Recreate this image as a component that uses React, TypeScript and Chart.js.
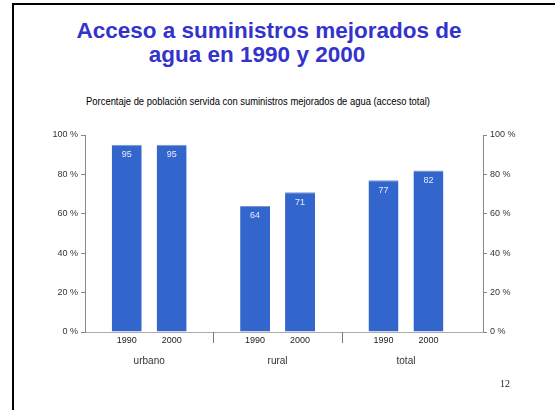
import React, { useEffect, useRef } from "react";
import { Chart, registerables } from "chart.js";

Chart.register(...registerables);

const categories = ["urbano", "rural", "total"];
const years = ["1990", "2000"];
const values1990 = [95, 64, 77];
const values2000 = [95, 71, 82];
const yTickStep = 20;

const NARROW = "'Liberation Sans Narrow', 'Arial Narrow', 'Liberation Sans', Arial, sans-serif";
const SANS = "'Liberation Sans', Arial, sans-serif";
const BAR = "#3366CC";

const decorPlugin = {
  id: "decor",
  afterDatasetsDraw(chart: any) {
    const { ctx, scales } = chart;
    const x = scales.x;
    const bottom = chart.chartArea.bottom;
    ctx.save();
    chart.data.datasets.forEach((ds: any, di: number) => {
      const meta = chart.getDatasetMeta(di);
      meta.data.forEach((bar: any, i: number) => {
        ctx.fillStyle = "#e8ecff";
        ctx.font = `9px ${NARROW}`;
        ctx.textAlign = "center";
        ctx.textBaseline = "middle";
        ctx.fillText(String(ds.data[i].y), bar.x, bar.y + 10);
        ctx.fillStyle = "#222";
        ctx.fillText(years[di], bar.x, bottom + 8.5);
      });
    });
    categories.forEach((c, i) => {
      const m0 = chart.getDatasetMeta(0).data[i];
      const m1 = chart.getDatasetMeta(1).data[i];
      const cx = (m0.x + m1.x) / 2;
      ctx.fillStyle = "#333";
      ctx.font = `10px ${SANS}`;
      ctx.textAlign = "center";
      ctx.textBaseline = "middle";
      ctx.fillText(c, cx, bottom + 29);
      if (i > 0) {
        const sx = Math.round((x.getPixelForValue(i - 1) + x.getPixelForValue(i)) / 2) + 0.5;
        ctx.strokeStyle = "#777";
        ctx.lineWidth = 1;
        ctx.beginPath();
        ctx.moveTo(sx, bottom);
        ctx.lineTo(sx, bottom + 11);
        ctx.stroke();
      }
    });
    ctx.restore();
  },
};

function yAxis(position: "left" | "right", width: number) {
  return {
    position,
    min: 0,
    max: 100,
    ticks: {
      stepSize: yTickStep,
      callback: (v: any) => `${v} %`,
      font: { family: NARROW, size: 9 },
      color: "#333",
      padding: 3,
    },
    grid: { display: true, drawOnChartArea: false, tickLength: 4, color: "#888" },
    border: { display: true, color: "#888" },
    afterFit: (s: any) => {
      s.width = width;
    },
  };
}

function BarChart() {
  const ref = useRef<HTMLCanvasElement>(null);
  useEffect(() => {
    if (!ref.current) return;
    const toPoints = (vals: number[]) => vals.map((v, i) => ({ x: i, y: v }));
    const chart = new Chart(ref.current, {
      type: "bar",
      data: {
        datasets: [
          { label: years[0], data: toPoints(values1990), backgroundColor: BAR, borderColor: "#7f93c4", borderWidth: { top: 1, left: 0, right: 0, bottom: 0 } as any },
          { label: years[1], data: toPoints(values2000), backgroundColor: BAR, borderColor: "#7f93c4", borderWidth: { top: 1, left: 0, right: 0, bottom: 0 } as any },
        ],
      },
      options: {
        responsive: false,
        maintainAspectRatio: false,
        animation: false,
        layout: { padding: { top: 135, left: 0, right: 0, bottom: 0 } },
        datasets: { bar: { categoryPercentage: 0.7, barPercentage: 0.667 } },
        plugins: { legend: { display: false }, tooltip: { enabled: false }, title: { display: false } },
        scales: {
          x: {
            type: "linear",
            min: -0.5,
            max: 2.6,
            offset: false,
            grid: { display: false },
            border: { display: true, color: "#aaa" },
            ticks: { display: false },
            afterBuildTicks: (s: any) => {
              s.ticks = categories.map((_, i) => ({ value: i }));
            },
            afterFit: (s: any) => {
              s.height = 78;
            },
          },
          y: yAxis("left", 85) as any,
          y2: yAxis("right", 72) as any,
        },
      },
      plugins: [decorPlugin],
    });
    return () => chart.destroy();
  }, []);
  return <canvas ref={ref} width={555} height={410} style={{ position: "absolute", left: 0, top: 0, width: 555, height: 410 }} />;
}

export default function App() {
  useEffect(() => {
    document.body.style.margin = "0";
  }, []);
  const titleStyle: React.CSSProperties = {
    position: "absolute",
    width: 600,
    textAlign: "center",
    fontFamily: SANS,
    fontWeight: "bold",
    fontSize: 22.5,
    lineHeight: "24px",
    color: "#3333CC",
    whiteSpace: "nowrap",
  };
  return (
    <div style={{ position: "relative", width: 555, height: 410, overflow: "hidden", background: "#fff" }}>
      <div style={{ position: "absolute", left: 12, top: 3, width: 700, height: 600, borderLeft: "2px solid #000", borderTop: "2px solid #000" }} />
      <div style={{ ...titleStyle, left: 269 - 300, top: 18.5 }}>Acceso a suministros mejorados de</div>
      <div style={{ ...titleStyle, left: 257 - 300, top: 42.5 }}>agua en 1990 y 2000</div>
      <div style={{ position: "absolute", left: 258 - 300, width: 600, top: 95.5, textAlign: "center", fontFamily: NARROW, fontSize: 10, lineHeight: "12px", color: "#000", whiteSpace: "nowrap", transform: "scaleX(0.94)", transformOrigin: "center" }}>
        Porcentaje de población servida con suministros mejorados de agua (acceso total)
      </div>
      <BarChart />
      <div style={{ position: "absolute", left: 500, top: 377.5, fontFamily: "'Liberation Serif', 'Times New Roman', serif", fontSize: 10, lineHeight: "12px", color: "#222" }}>12</div>
    </div>
  );
}
